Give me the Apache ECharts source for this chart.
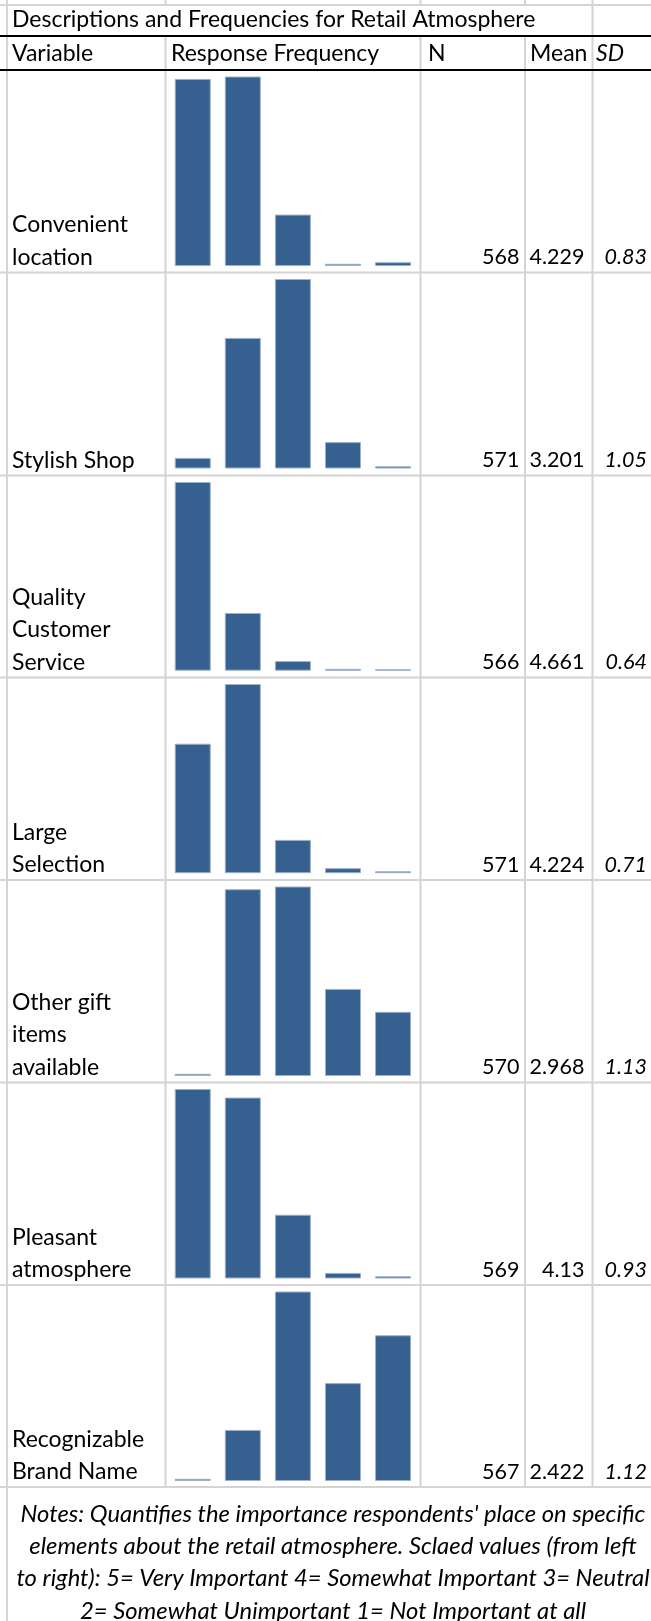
<!DOCTYPE html>
<html>
<head>
<meta charset="utf-8">
<title>Descriptions and Frequencies for Retail Atmosphere</title>
<script src="https://cdn.jsdelivr.net/npm/echarts@6/dist/echarts.min.js"></script>
<style>
  html, body { margin: 0; padding: 0; background: #ffffff; }
  #chart { width: 651px; height: 1621px; }
</style>
</head>
<body>
<div id="chart"></div>
<script>
// Rating categories, left to right (5 = Very Important ... 1 = Not Important at all)
const ratingLabels = ['5', '4', '3', '2', '1'];

// Variable names (one entry per table row, line breaks as shown in the cell)
const variableNames = [
  ['Convenient', 'location'],
  ['Stylish Shop'],
  ['Quality', 'Customer', 'Service'],
  ['Large', 'Selection'],
  ['Other gift', 'items', 'available'],
  ['Pleasant', 'atmosphere'],
  ['Recognizable', 'Brand Name']
];

// Response counts per rating (5,4,3,2,1)
const freqConvenientLocation = [240, 243, 69, 7, 9];
const freqStylishShop = [56, 170, 226, 71, 48];
const freqQualityService = [412, 126, 21, 4, 3];
const freqLargeSelection = [206, 301, 53, 8, 3];
const freqOtherGiftItems = [37, 174, 176, 100, 83];
const freqPleasantAtmosphere = [232, 222, 85, 17, 13];
const freqBrandName = [20, 68, 204, 114, 161];

const frequencyRows = [
  freqConvenientLocation, freqStylishShop, freqQualityService,
  freqLargeSelection, freqOtherGiftItems, freqPleasantAtmosphere, freqBrandName
];

// Summary statistics
const nValues = ['568', '571', '566', '571', '570', '569', '567'];
const meanValues = ['4.229', '3.201', '4.661', '4.224', '2.968', '4.13', '2.422'];
const sdValues = ['0.83', '1.05', '0.64', '0.71', '1.13', '0.93', '1.12'];

// Column headers and texts
const titleText = 'Descriptions and Frequencies for Retail Atmosphere';
const headerTexts = ['Variable', 'Response Frequency', 'N', 'Mean', 'SD'];
const noteLines = [
  "Notes: Quantifies the importance respondents' place on specific",
  'elements about the retail atmosphere. Sclaed values (from left',
  'to right): 5= Very Important 4= Somewhat Important 3= Neutral',
  '2= Somewhat Unimportant 1= Not Important at all'
];

// ---- layout ----
const FONT = 'Lato, "Open Sans", sans-serif';
const FS = 23;
const FS_NUM = 21.5;
const FS_NOTE = 23.8;
const rowTops = [70, 272.5, 475.5, 677.5, 880, 1082.5, 1285];
const tableBottom = 1487;
const colX = [7, 165.5, 420.5, 525, 592.5];
const gridColor = '#d4d4d4';
const barColor = '#36608f';

const grids = [], xAxes = [], yAxes = [], series = [], graphics = [];

frequencyRows.forEach(function (row, i) {
  grids.push({ left: 167.7, width: 250.4, top: rowTops[i] + 6.5, height: 189 });
  xAxes.push({
    gridIndex: i, type: 'category', data: ratingLabels,
    show: false, boundaryGap: true
  });
  yAxes.push({
    gridIndex: i, type: 'value', show: false,
    min: function (v) { return v.min - (v.max - v.min) * 0.009; },
    max: 'dataMax'
  });
  series.push({
    type: 'bar', xAxisIndex: i, yAxisIndex: i, data: row,
    barWidth: 36, silent: true, animation: false,
    itemStyle: { color: barColor, borderColor: '#9db0cb', borderWidth: 1 }
  });
});

function hLine(y, x1, x2, color, w) {
  graphics.push({ type: 'line', silent: true, z: 5,
    shape: { x1: x1, y1: y, x2: x2, y2: y },
    style: { stroke: color, lineWidth: w } });
}
function vLine(x, y1, y2, color, w) {
  graphics.push({ type: 'line', silent: true, z: 4,
    shape: { x1: x, y1: y1, x2: x, y2: y2 },
    style: { stroke: color, lineWidth: w } });
}
function txt(s, x, y, align, italic, size) {
  graphics.push({ type: 'text', silent: true, z: 10,
    style: { text: s, x: x, y: y, align: align, verticalAlign: 'middle',
      fill: '#000', font: (italic ? 'italic ' : '') + (size || FS) + 'px ' + FONT } });
}

// grid lines of the table
vLine(colX[0], 0, 1621, gridColor, 2);
vLine(colX[4], 0, tableBottom, gridColor, 2);
[colX[1], colX[2], colX[3]].forEach(function (x) {
  vLine(x, 0, 5, gridColor, 2);
  vLine(x, 36, tableBottom, gridColor, 2);
});
hLine(5, 0, 651, gridColor, 2);
rowTops.slice(1).forEach(function (y) { hLine(y, 0, 651, gridColor, 2); });
hLine(tableBottom, 0, 651, gridColor, 2);
hLine(36, 0, 651, '#000', 2);
hLine(70, 0, 651, '#000', 2);

// title and headers
txt(titleText, 12, 20, 'left');
txt(headerTexts[0], 12, 54, 'left');
txt(headerTexts[1], 171, 54, 'left');
txt(headerTexts[2], 428, 54, 'left');
txt(headerTexts[3], 530, 54, 'left');
txt(headerTexts[4], 596, 54, 'left', true);

// row texts
const rowBottoms = rowTops.slice(1).concat([tableBottom]);
variableNames.forEach(function (lines, i) {
  const base = rowBottoms[i] - 15;
  lines.slice().reverse().forEach(function (s, k) {
    txt(s, 12, base - k * 32.5, 'left');
  });
  txt(nValues[i], 519.5, base, 'right', false, FS_NUM);
  txt(meanValues[i], 584.5, base, 'right', false, FS_NUM);
  txt(sdValues[i], 647, base, 'right', true, FS_NUM);
});

// notes
noteLines.forEach(function (s, k) {
  txt(s, 333, 1514 + k * 32.3, 'center', true, FS_NOTE);
});

const chart = echarts.init(document.getElementById('chart'), null, { renderer: 'canvas' });
chart.setOption({
  animation: false,
  backgroundColor: '#ffffff',
  grid: grids,
  xAxis: xAxes,
  yAxis: yAxes,
  series: series,
  graphic: graphics
});
</script>
</body>
</html>
